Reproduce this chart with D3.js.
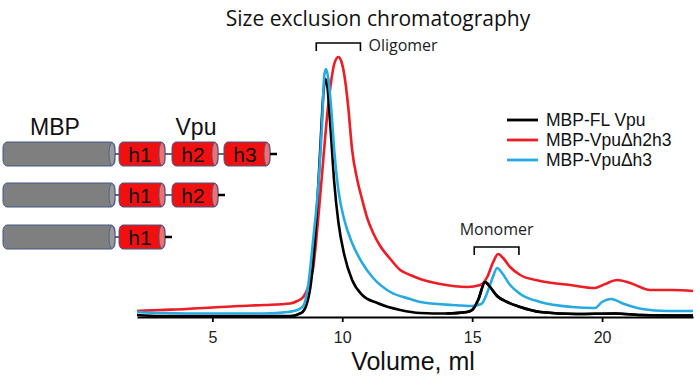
<!DOCTYPE html>
<html>
<head>
<meta charset="utf-8">
<title>Size exclusion chromatography</title>
<script src="https://d3js.org/d3.v7.min.js"></script>
<style>
  body { margin: 0; background: #fff; }
  svg { font-family: Arial, "Liberation Sans", sans-serif; }
</style>
</head>
<body>
<div id="chart"></div>
<script>
// traces: [volume ml, absorbance (arbitrary units)]
var fullVpu = [
  [2.1,2],[3,1],[5,1],[7,1],[8,1],[8.42,4],[8.62,12],[8.81,37],[9.0,97],[9.15,167],
  [9.27,222],[9.35,238],[9.42,232],[9.54,192],[9.69,135],[9.85,95],[10.08,62],[10.38,37],
  [10.77,22],[11.35,14],[12.23,7],[13.0,4],[14.0,3.5],[14.8,5],[15.0,7],[15.23,17],
  [15.5,35],[15.69,30],[15.96,21],[16.35,15],[16.85,10],[17.62,5],[19.0,3],[20.5,3.5],
  [21.5,2],[23.5,1.5]
];
var vpuDh2h3 = [
  [2.1,6],[3,7],[4,8],[5,9.5],[6,11],[7,12],[8,13.5],[8.27,16],[8.5,20],[8.69,30],
  [8.88,49],[9.0,77],[9.12,112],[9.23,145],[9.35,182],[9.46,212],[9.58,237],[9.69,253],
  [9.85,260],[9.96,256],[10.08,242],[10.23,210],[10.38,167],[10.58,137],[10.77,117],
  [10.96,99],[11.19,84],[11.46,71],[11.85,58],[12.23,47],[12.62,42],[13.0,38],[13.77,33],
  [14.81,30],[15.31,32],[15.58,40],[15.81,55],[16.0,63],[16.19,59],[16.46,50],[16.85,42],
  [17.62,36],[18.77,32],[19.73,29],[20.12,33],[20.58,37],[21.08,34],[21.85,27],[22.73,27],
  [23.5,26]
];
var vpuDh3 = [
  [2.1,5],[3,4],[5,3.5],[7,3.5],[7.9,5],[8.27,7],[8.5,11],[8.69,32],[8.88,77],[9.08,132],
  [9.23,197],[9.31,242],[9.38,248],[9.46,239],[9.58,207],[9.69,167],[9.85,127],[10.08,97],
  [10.38,74],[10.77,54],[11.19,39],[11.85,25],[12.62,18],[13.0,15],[14.23,12],[15.0,11],
  [15.35,13],[15.62,27],[15.81,41],[15.96,49],[16.15,44],[16.46,32],[16.85,23],[17.62,15],
  [18.85,10],[19.73,9],[20.0,15],[20.35,18],[20.85,13],[21.54,8],[22.5,6],[23.5,6]
];

var seriesNames = ["MBP-FL Vpu", "MBP-Vpu\u0394h2h3", "MBP-Vpu\u0394h3"];
var seriesColors = ["#000000", "#ee1c24", "#27aae1"];
var seriesData = [fullVpu, vpuDh2h3, vpuDh3];

var xTicks = [5, 10, 15, 20];
var brackets = [
  {label: "Oligomer", from: 9.0, to: 10.7},
  {label: "Monomer", from: 15.08, to: 16.8}
];

// construct diagram
var constructs = [["h1","h2","h3"], ["h1","h2"], ["h1"]];

var W = 700, H = 380;
var svg = d3.select("#chart").append("svg")
  .attr("width", W).attr("height", H);

var x = d3.scaleLinear().domain([2.1, 23.5]).range([137, 693]);
var y = d3.scaleLinear().domain([0, 260]).range([317, 57]);

svg.append("text")
  .attr("x", 378).attr("y", 26)
  .attr("text-anchor", "middle")
  .style("font-family", "'Open Sans', sans-serif")
  .style("font-size", "21px")
  .attr("fill", "#111")
  .text("Size exclusion chromatography");

// x axis
var xAxis = d3.axisBottom(x).tickValues(xTicks).tickSize(5).tickSizeOuter(0);
var gx = svg.append("g").attr("transform", "translate(0,317)").call(xAxis);
gx.select(".domain").attr("stroke", "#000").attr("stroke-width", 1.8);
gx.selectAll(".tick line").attr("stroke-width", 1.8);
gx.selectAll(".tick text")
  .attr("dy", "1em").attr("y", 10)
  .style("font-size", "16px").style("font-family", "Arial, 'Liberation Sans', sans-serif")
  .attr("fill", "#222");

svg.append("text")
  .attr("x", 413).attr("y", 370)
  .attr("text-anchor", "middle")
  .style("font-size", "25px")
  .attr("fill", "#111")
  .text("Volume, ml");

// traces
var line = d3.line()
  .x(function(d) { return x(d[0]); })
  .y(function(d) { return y(d[1]); })
  .curve(d3.curveMonotoneX);

var order = [1, 0, 2];
order.forEach(function(i) {
  svg.append("path")
    .datum(seriesData[i])
    .attr("d", line)
    .attr("fill", "none")
    .attr("stroke", seriesColors[i])
    .attr("stroke-width", 2.6)
    .attr("stroke-linejoin", "round");
});
// black monomer peak sits over the blue trace
svg.append("path")
  .datum(fullVpu.filter(function(d) { return d[0] >= 14; }))
  .attr("d", line)
  .attr("fill", "none").attr("stroke", "#000").attr("stroke-width", 2.6);

// brackets
var bracketY = [43, 247];
brackets.forEach(function(b, i) {
  var by = bracketY[i];
  svg.append("path")
    .attr("d", "M" + x(b.from) + "," + (by + 8) + "V" + by + "H" + x(b.to) + "V" + (by + 8))
    .attr("fill", "none").attr("stroke", "#000").attr("stroke-width", 1.6);
  var t;
  if (i == 0) {
    t = svg.append("text").attr("x", x(b.to) + 8).attr("y", by + 8);
  } else {
    t = svg.append("text").attr("x", (x(b.from) + x(b.to)) / 2).attr("y", by - 12)
      .attr("text-anchor", "middle");
  }
  t.style("font-family", "'Open Sans', sans-serif").style("font-size", "16px")
    .attr("fill", "#222").text(b.label);
});

// legend
var legend = svg.append("g");
seriesNames.forEach(function(n, i) {
  var ly = 120 + i * 20;
  legend.append("line")
    .attr("x1", 507).attr("x2", 538).attr("y1", ly).attr("y2", ly)
    .attr("stroke", seriesColors[i]).attr("stroke-width", 2.8);
  legend.append("text")
    .attr("x", 546).attr("y", ly + 6)
    .style("font-size", "17.5px").attr("fill", "#111")
    .text(n);
});

// construct cartoon
var diag = svg.append("g");
diag.append("text").attr("x", 55).attr("y", 135).attr("text-anchor", "middle")
  .style("font-size", "23px").attr("fill", "#111").text("MBP");
diag.append("text").attr("x", 196).attr("y", 135).attr("text-anchor", "middle")
  .style("font-size", "23px").attr("fill", "#111").text("Vpu");

var rowTop = [142, 183, 225];
var helixX = [119, 172, 224];
var helixW = 46, rowH = 24;

function cylinder(g, x0, y0, w, h, fill, capFill) {
  g.append("rect")
    .attr("x", x0).attr("y", y0).attr("width", w).attr("height", h)
    .attr("rx", 4).attr("ry", 6)
    .attr("fill", fill).attr("stroke", "#44578a").attr("stroke-width", 1);
  g.append("ellipse")
    .attr("cx", x0 + w - 3).attr("cy", y0 + h / 2).attr("rx", 3).attr("ry", h / 2 - 0.5)
    .attr("fill", capFill).attr("stroke", "#44578a").attr("stroke-width", 0.8);
}

constructs.forEach(function(helices, r) {
  var top = rowTop[r];
  var g = diag.append("g");
  cylinder(g, 3, top, 112, rowH, "#7f7f7f", "#9a9a9a");
  g.append("line").attr("x1", 115).attr("x2", 119)
    .attr("y1", top + rowH / 2).attr("y2", top + rowH / 2)
    .attr("stroke", "#2a3a6a").attr("stroke-width", 1.5);
  helices.forEach(function(h, k) {
    var hx = helixX[k];
    cylinder(g, hx, top, helixW, rowH, "#f01010", "#f07070");
    g.append("text").attr("x", hx + helixW / 2 - 2).attr("y", top + rowH / 2 + 7.5)
      .attr("text-anchor", "middle").style("font-size", "21px").attr("fill", "#111").text(h);
    var nx = k + 1 < helices.length ? helixX[k + 1] : hx + helixW + 7;
    g.append("line").attr("x1", hx + helixW).attr("x2", nx)
      .attr("y1", top + rowH / 2).attr("y2", top + rowH / 2)
      .attr("stroke", k + 1 < helices.length ? "#2a3a6a" : "#000")
      .attr("stroke-width", k + 1 < helices.length ? 1.5 : 2.5);
  });
});
</script>
</body>
</html>
